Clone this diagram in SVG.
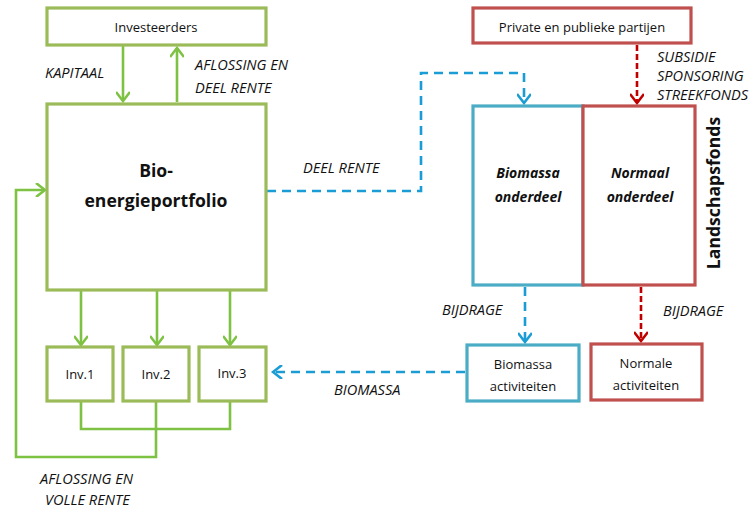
<svg xmlns="http://www.w3.org/2000/svg" width="753" height="508" viewBox="0 0 753 508">
<style>
.gb{fill:#fff;stroke:#9BBB59;stroke-width:3.2}
.bb{fill:#fff;stroke:#4BACC6;stroke-width:3.2}
.rb{fill:#fff;stroke:#C0504D;stroke-width:3.2}
.ga{fill:none;stroke:#7DC242;stroke-width:2.6}
.ba{fill:none;stroke:#1A9CD4;stroke-width:2.6;stroke-dasharray:9 6}
.ra{fill:none;stroke:#C00000;stroke-width:2.6;stroke-dasharray:6 3}
text{font-family:"Open Sans","Liberation Sans",sans-serif;fill:#111}
.t{font-size:13px;text-anchor:middle}
.lbl{font-size:14.6px;font-style:italic}
.big{font-size:17.6px;font-weight:bold;text-anchor:middle}
.mid{font-size:14px;font-weight:bold;font-style:italic;text-anchor:middle}
</style>
<defs>
<marker id="ag" markerWidth="14" markerHeight="14" refX="12" refY="7" orient="auto" markerUnits="userSpaceOnUse"><path d="M3,0 L12,7 L3,14" fill="none" stroke="#7DC242" stroke-width="2.6"/></marker>
<marker id="ab" markerWidth="14" markerHeight="14" refX="12" refY="7" orient="auto" markerUnits="userSpaceOnUse"><path d="M3,0 L12,7 L3,14" fill="none" stroke="#1A9CD4" stroke-width="2.6"/></marker>
<marker id="ar" markerWidth="14" markerHeight="14" refX="12" refY="7" orient="auto" markerUnits="userSpaceOnUse"><path d="M3,0 L12,7 L3,14" fill="none" stroke="#C00000" stroke-width="2.6"/></marker>
</defs>
<g id="connectors">
<path class="ga" d="M123,46 V101" marker-end="url(#ag)"/>
<path class="ga" d="M177,102 V48" marker-end="url(#ag)"/>
<path class="ga" d="M81,291 V345" marker-end="url(#ag)"/>
<path class="ga" d="M157,291 V345" marker-end="url(#ag)"/>
<path class="ga" d="M230,291 V345" marker-end="url(#ag)"/>
<path class="ga" d="M81,402 V429 H230 V402"/>
<path class="ga" d="M156,402 V457 H16 V190 H45" marker-end="url(#ag)"/>
<path class="ba" d="M267,191 H421 V73 H524 V103" marker-end="url(#ab)"/>
<path class="ra" d="M637,45 V103" marker-end="url(#ar)"/>
<path class="ba" d="M525,287 V342" marker-end="url(#ab)"/>
<path class="ra" d="M641,287 V341" marker-end="url(#ar)"/>
<path class="ba" d="M465,372 H273" marker-end="url(#ab)"/>
</g>
<g id="investeerders"><rect class="gb" x="47" y="8" width="219" height="37"/><text class="t" x="156" y="32">Investeerders</text></g>
<g id="portfolio"><rect class="gb" x="47" y="104" width="219" height="186"/><text class="big" x="156" y="177">Bio-</text><text class="big" x="156" y="207">energieportfolio</text></g>
<g id="inv1"><rect class="gb" x="47" y="347" width="66" height="54"/><text class="t" x="80" y="379">Inv.1</text></g>
<g id="inv2"><rect class="gb" x="123" y="347" width="66" height="54"/><text class="t" x="156" y="379">Inv.2</text></g>
<g id="inv3"><rect class="gb" x="199" y="347" width="67" height="54"/><text class="t" x="232" y="378">Inv.3</text></g>
<g id="partijen"><rect class="rb" x="473" y="8" width="218" height="35"/><text class="t" x="582" y="32">Private en publieke partijen</text></g>
<g id="landschapsfonds">
<rect class="bb" x="473" y="106" width="110" height="179"/>
<rect class="rb" x="583" y="106" width="112" height="179"/>
<text class="mid" x="528" y="178">Biomassa</text><text class="mid" x="528" y="202">onderdeel</text>
<text class="mid" x="640" y="178">Normaal</text><text class="mid" x="640" y="202">onderdeel</text>
<text class="big" transform="translate(720,193) rotate(-90)">Landschapsfonds</text>
</g>
<g id="biomassa-act"><rect class="bb" x="467" y="345" width="112" height="56"/><text class="t" x="523" y="369">Biomassa</text><text class="t" x="523" y="391">activiteiten</text></g>
<g id="normale-act"><rect class="rb" x="591" y="344" width="111" height="56"/><text class="t" x="646" y="368">Normale</text><text class="t" x="646" y="390">activiteiten</text></g>
<g id="labels">
<text class="lbl" x="45" y="78">KAPITAAL</text>
<text class="lbl" x="195" y="70">AFLOSSING EN</text>
<text class="lbl" x="195" y="93">DEEL RENTE</text>
<text class="lbl" x="303" y="173">DEEL RENTE</text>
<text class="lbl" x="657" y="62">SUBSIDIE</text>
<text class="lbl" x="657" y="81">SPONSORING</text>
<text class="lbl" x="657" y="100">STREEKFONDS</text>
<text class="lbl" x="442" y="315">BIJDRAGE</text>
<text class="lbl" x="663" y="316">BIJDRAGE</text>
<text class="lbl" x="334" y="395">BIOMASSA</text>
<text class="lbl" x="40" y="484">AFLOSSING EN</text>
<text class="lbl" x="45" y="505">VOLLE RENTE</text>
</g>
</svg>
